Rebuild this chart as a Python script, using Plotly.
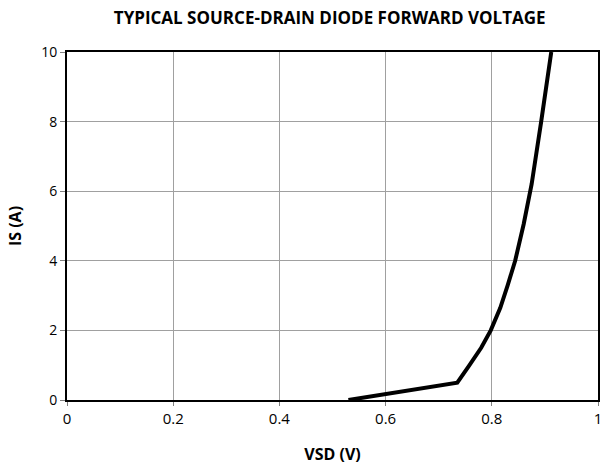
import plotly.graph_objects as go

vsd = [0.53, 0.735, 0.757, 0.78, 0.798, 0.816, 0.83, 0.844, 0.86, 0.875, 0.893, 0.912]
is_a = [0.0, 0.5, 0.98, 1.5, 2.0, 2.65, 3.3, 4.0, 5.05, 6.2, 8.0, 10.0]

x_ticks = [0, 0.2, 0.4, 0.6, 0.8, 1]
x_labels = ["0", "0.2", "0.4", "0.6", "0.8", "1"]
y_ticks = [0, 2, 4, 6, 8, 10]

fig = go.Figure()
fig.add_trace(go.Scatter(x=vsd, y=is_a, mode="lines",
                         line=dict(color="black", width=4), showlegend=False))

font_fam = "Liberation Sans Narrow, Open Sans, sans-serif"
fig.update_layout(
    width=605, height=471,
    margin=dict(l=67, r=3, t=52, b=71),
    paper_bgcolor="white", plot_bgcolor="white",
    title=dict(text="<b>TYPICAL SOURCE-DRAIN DIODE FORWARD VOLTAGE</b>",
               x=0.545, xanchor="center", y=0.962, yanchor="middle",
               font=dict(family=font_fam, size=17, color="black")),
    xaxis=dict(range=[0, 1], tickvals=x_ticks, ticktext=x_labels,
               showgrid=True, gridcolor="#a0a0a0", gridwidth=1,
               showline=True, linecolor="black", linewidth=2, mirror=True,
               ticks="outside", ticklen=4, tickcolor="#808080",
               zeroline=False,
               tickfont=dict(family=font_fam, size=15, color="black"),
               title=dict(text="<b>VSD (V)</b>", standoff=22,
                          font=dict(family=font_fam, size=16, color="black"))),
    yaxis=dict(range=[0, 10], tickvals=y_ticks,
               showgrid=True, gridcolor="#a0a0a0", gridwidth=1,
               showline=True, linecolor="black", linewidth=2, mirror=True,
               ticks="outside", ticklen=5, tickcolor="#808080",
               zeroline=False,
               tickfont=dict(family=font_fam, size=14, color="black"),
               title=dict(text="<b>IS (A)</b>", standoff=16,
                          font=dict(family=font_fam, size=16, color="black"))),
)

fig.write_html("out.html")
